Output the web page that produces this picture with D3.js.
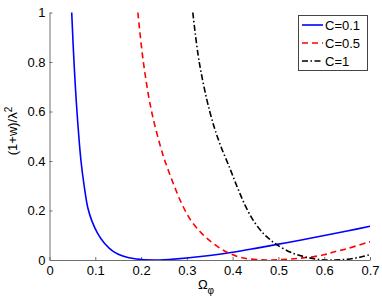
<!DOCTYPE html>
<html><head><meta charset="utf-8">
<script src="https://cdn.jsdelivr.net/npm/d3@7"></script>
<style>body{margin:0;background:#fff}svg{display:block}text{font-family:"Liberation Sans",Arial,Helvetica,sans-serif}</style>
</head><body>
<script>
const xTicks = [0, 0.1, 0.2, 0.3, 0.4, 0.5, 0.6, 0.7];
const yTicks = [0, 0.2, 0.4, 0.6, 0.8, 1];
const seriesNames = ["C=0.1", "C=0.5", "C=1"];
const blueX = [0.0485, 0.0535, 0.060, 0.0688, 0.0757, 0.0838, 0.0925, 0.1045, 0.12, 0.139, 0.16, 0.19, 0.23, 0.25, 0.3, 0.35, 0.4, 0.45, 0.5, 0.55, 0.6, 0.65, 0.7];
const blueY = [1, 0.8, 0.6, 0.4, 0.3, 0.21, 0.158, 0.11, 0.068, 0.035, 0.016, 0.004, 0, 0.001, 0.008, 0.018, 0.031, 0.047, 0.064, 0.081, 0.099, 0.117, 0.136];
const redX = [0.193, 0.205, 0.223, 0.248, 0.259, 0.274, 0.289, 0.307, 0.329, 0.350, 0.372, 0.394, 0.423, 0.46, 0.48, 0.5, 0.547, 0.6, 0.62, 0.65, 0.7];
const redY = [1, 0.8, 0.6, 0.423, 0.365, 0.292, 0.227, 0.165, 0.114, 0.078, 0.048, 0.026, 0.008, 0.001, 0, 0.001, 0.007, 0.021, 0.032, 0.046, 0.074];
const blackX = [0.313, 0.327, 0.350, 0.370, 0.394, 0.410, 0.427, 0.445, 0.467, 0.48, 0.496, 0.532, 0.562, 0.59, 0.62, 0.65, 0.68, 0.7];
const blackY = [1, 0.8, 0.6, 0.48, 0.37, 0.295, 0.222, 0.16, 0.107, 0.085, 0.062, 0.027, 0.011, 0.002, 0, 0.003, 0.012, 0.022];

const W = 382, H = 300;
const svg = d3.select("body").append("svg").attr("width", W).attr("height", H);
const x = d3.scaleLinear().domain([0, 0.7]).range([49.5, 370]);
const y = d3.scaleLinear().domain([0, 1]).range([260, 12.5]);
const axisColor = "#6e6e6e";

const gx = svg.append("g").attr("transform", `translate(0,${y(0)})`)
  .call(d3.axisBottom(x).tickValues(xTicks).tickFormat(d => d === 0 ? "0" : d3.format(".1f")(d)).tickSizeInner(-3).tickSizeOuter(0).tickPadding(6));
const gy = svg.append("g").attr("transform", `translate(${x(0)},0)`)
  .call(d3.axisLeft(y).tickValues(yTicks).tickFormat(d => (d === 0 || d === 1) ? String(d) : d3.format(".1f")(d)).tickSizeInner(-3).tickSizeOuter(0).tickPadding(4));
[gx, gy].forEach(g => {
  g.select(".domain").attr("stroke", axisColor).attr("stroke-width", 1);
  g.selectAll(".tick line").attr("stroke", axisColor);
  g.selectAll(".tick text").attr("fill", "#000").style("font-size", "13px").style("font-family", '"Liberation Sans",Arial,sans-serif');
});

svg.append("clipPath").attr("id", "clip").append("rect")
  .attr("x", x(0)).attr("y", y(1) - 1).attr("width", x(0.7) - x(0) + 2).attr("height", y(0) - y(1) + 1);
const line = d3.line().x(d => x(d[0])).y(d => y(d[1])).curve(d3.curveCatmullRom.alpha(0.5));
const styles = [
  {color: "#0000ff", dash: null, xs: blueX, ys: blueY},
  {color: "#ff0000", dash: "6,4", xs: redX, ys: redY},
  {color: "#000000", dash: "6,2.5,1.5,2.5", xs: blackX, ys: blackY}
];
styles.forEach(s => {
  svg.append("path").datum(d3.zip(s.xs, s.ys)).attr("d", line).attr("clip-path", "url(#clip)")
    .attr("fill", "none").attr("stroke", s.color).attr("stroke-width", 1.6)
    .attr("stroke-dasharray", s.dash);
});

const lg = svg.append("g");
lg.append("rect").attr("x", 298.5).attr("y", 15.5).attr("width", 69).attr("height", 55)
  .attr("fill", "#fff").attr("stroke", "#444").attr("stroke-width", 1);
seriesNames.forEach((n, i) => {
  const yy = 25 + i * 18;
  lg.append("line").attr("x1", 302).attr("x2", 323).attr("y1", yy).attr("y2", yy)
    .attr("stroke", styles[i].color).attr("stroke-width", 1.6).attr("stroke-dasharray", styles[i].dash);
  lg.append("text").attr("x", 325).attr("y", yy + 4.5).style("font-size", "13px").text(n);
});

const xl = svg.append("text").attr("x", 206).attr("y", 289).attr("text-anchor", "middle").style("font-size", "13px");
xl.append("tspan").text("Ω");
xl.append("tspan").attr("dy", 5).style("font-size", "10px").text("φ");
const yl = svg.append("text").attr("transform", "translate(17,131) rotate(-90)").attr("text-anchor", "middle").style("font-size", "13px");
yl.append("tspan").text("(1+w)/λ");
yl.append("tspan").attr("dy", -5).style("font-size", "10px").text("2");
</script>
</body></html>
